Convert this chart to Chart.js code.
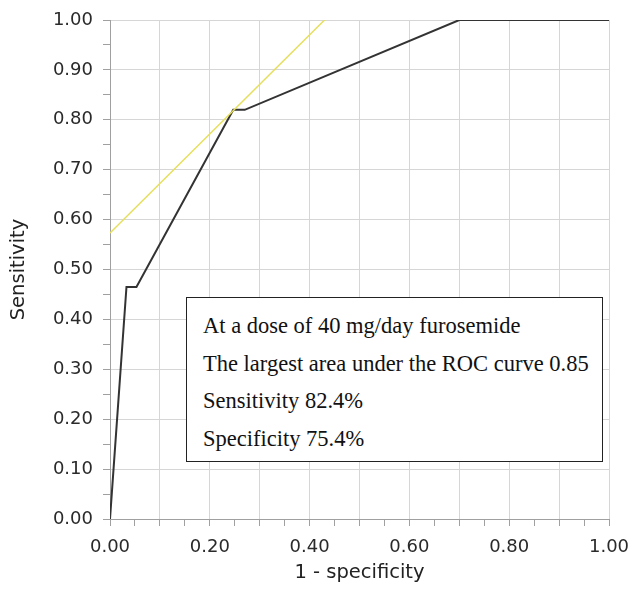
<!doctype html>
<html lang="en">
  <head>
    <meta charset="utf-8">
    <title>ROC curve furosemide</title>
    <style>
      body { margin: 0; background: #fff; }
      #wrap { position: relative; width: 629px; height: 591px; }
      #note {
        position: absolute; left: 186px; top: 297px; width: 417px; height: 165px;
        border: 1px solid #222; background: #fff; box-sizing: border-box;
        font-family: "Liberation Serif", "Times New Roman", serif; font-size: 22.5px; color: #111;
        padding: 15px 0 0 16px;
      }
      #note div { height: 37.7px; line-height: 26px; white-space: nowrap; }
    </style>
  </head>
  <body>
    <div id="wrap">
      <canvas id="roc" width="629" height="591"></canvas>
      <div id="note">
        <div>At a dose of 40 mg/day furosemide</div>
        <div>The largest area under the ROC curve 0.85</div>
        <div>Sensitivity 82.4%</div>
        <div>Specificity 75.4%</div>
      </div>
    </div>
    <script src="https://cdn.jsdelivr.net/npm/chart.js@4.4.1/dist/chart.umd.min.js"></script>
    <script>
      // ROC curve
      const rocX = [0, 0.033, 0.053, 0.247, 0.27, 0.70, 1.00];
      const rocY = [0, 0.465, 0.465, 0.82, 0.82, 1.00, 1.00];
      // yellow tangent line
      const tangentX = [0, 0.43];
      const tangentY = [0.573, 1.00];

      const toPoints = (xs, ys) => xs.map((x, i) => ({ x: x, y: ys[i] }));
      const gridColor = "#d6d6d6";
      const axisColor = "#a0a0a0";
      const tickFont = { family: "DejaVu Sans", size: 18 };
      const titleFont = { family: "DejaVu Sans", size: 19.5 };

      new Chart(document.getElementById("roc"), {
        type: "scatter",
        data: {
          datasets: [
            {
              label: "tangent",
              data: toPoints(tangentX, tangentY),
              showLine: true,
              borderColor: "#e6df5c",
              borderWidth: 1.5,
              pointRadius: 0
            },
            {
              label: "ROC",
              data: toPoints(rocX, rocY),
              showLine: true,
              borderColor: "#333333",
              borderWidth: 2,
              pointRadius: 0
            }
          ]
        },
        options: {
          responsive: false,
          animation: false,
          devicePixelRatio: 1,
          layout: { padding: { left: 0, top: 20, right: 20, bottom: 0 } },
          plugins: { legend: { display: false }, tooltip: { enabled: false } },
          scales: {
            x: {
              type: "linear", min: 0, max: 1,
              afterFit: (s) => { s.height = 72; s.paddingLeft = 0; s.paddingRight = 0; },
              ticks: {
                stepSize: 0.05, autoSkip: false, maxRotation: 0,
                color: "#2a2a2a", font: tickFont, padding: 11,
                callback: (v) => (Math.round(v * 100) % 20 === 0 ? v.toFixed(2) : "")
              },
              grid: {
                tickLength: 7,
                color: (c) => (Math.round(c.tick.value * 100) % 10 === 0 ? gridColor : "rgba(0,0,0,0)"),
                tickColor: axisColor
              },
              border: { color: axisColor, width: 1 },
              title: {
                display: true, text: "1 - specificity", color: "#222",
                font: titleFont,
                padding: { top: 4, bottom: 6 }
              }
            },
            y: {
              type: "linear", min: 0, max: 1,
              afterFit: (s) => { s.width = 110; s.paddingTop = 0; s.paddingBottom = 0; },
              ticks: {
                stepSize: 0.05, autoSkip: false,
                color: "#2a2a2a", font: tickFont, padding: 10,
                callback: (v) => (Math.round(v * 100) % 10 === 0 ? v.toFixed(2) : "")
              },
              grid: {
                tickLength: 7,
                color: (c) => (Math.round(c.tick.value * 100) % 10 === 0 ? gridColor : "rgba(0,0,0,0)"),
                tickColor: axisColor
              },
              border: { color: axisColor, width: 1 },
              title: {
                display: true, text: "Sensitivity", color: "#222",
                font: titleFont,
                padding: { top: 7, bottom: 4 }
              }
            }
          }
        }
      });
    </script>
  </body>
</html>
